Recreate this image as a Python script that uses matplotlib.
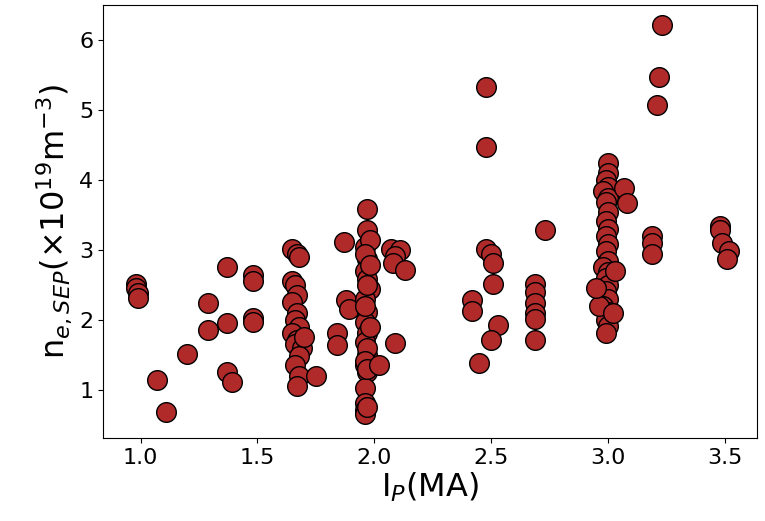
import numpy as np
import matplotlib.pyplot as plt


# Plasma current (MA) and separatrix density (1e19 m^-3)
ip_ma = [
    0.98, 0.98, 0.99, 0.99,
    1.07, 1.11, 1.20, 1.29, 1.29, 1.37, 1.37, 1.37, 1.39,
    1.48, 1.48, 1.48, 1.48,
    # column near 1.67
    1.65, 1.67, 1.68, 1.65, 1.66, 1.67, 1.65, 1.67, 1.66, 1.68,
    1.65, 1.67, 1.66, 1.69, 1.68, 1.66, 1.68, 1.67, 1.75, 1.70,
    # group near 1.87
    1.87, 1.88, 1.89, 1.84, 1.84,
    # column near 1.97
    1.97, 1.97, 1.96, 1.97, 1.96, 1.97, 1.98, 1.96, 1.97, 1.96,
    1.97, 1.96, 1.97, 1.96, 1.97, 1.96, 1.96, 1.96, 1.96,
    1.98, 1.96, 1.98, 1.97, 1.96, 1.98, 1.97, 1.96, 1.97, 1.97, 2.02,
    # group near 2.1
    2.07, 2.11, 2.09, 2.08, 2.13, 2.09,
    # group near 2.5
    2.42, 2.42, 2.45, 2.48, 2.48, 2.48, 2.50, 2.51, 2.51, 2.53, 2.50,
    # group near 2.7
    2.69, 2.69, 2.69, 2.69, 2.69, 2.69, 2.73,
    # column near 3.0
    3.00, 3.00, 2.99, 3.00, 2.98, 3.00, 2.99, 3.00, 2.99, 3.00,
    2.99, 3.00, 2.99, 3.00, 2.98, 3.00, 2.99, 3.00, 2.99, 3.00,
    2.98, 3.00, 2.99, 3.00, 2.99,
    3.07, 3.08, 2.96, 2.95, 3.03, 3.02,
    # group near 3.2
    3.23, 3.22, 3.21, 3.19, 3.19, 3.19,
    # group near 3.5
    3.48, 3.48, 3.49, 3.52, 3.51,
]
ne_sep = [
    2.52, 2.45, 2.38, 2.32,
    1.14, 0.68, 1.52, 1.85, 2.24, 2.76, 1.95, 1.26, 1.12,
    2.64, 2.55, 2.03, 1.97,
    3.02, 2.95, 2.90, 2.55, 2.50, 2.35, 2.25, 2.10, 2.00, 1.90,
    1.82, 1.72, 1.65, 1.60, 1.48, 1.35, 1.20, 1.05, 1.20, 1.75,
    3.11, 2.28, 2.15, 1.82, 1.64,
    3.58, 3.28, 3.05, 2.87, 2.70, 2.58, 2.44, 2.30, 2.11, 1.97,
    1.82, 1.68, 1.50, 1.36, 1.26, 1.03, 0.81, 0.71, 0.65,
    3.15, 2.95, 2.78, 2.50, 2.20, 1.90, 1.60, 1.42, 1.30, 0.75, 1.35,
    3.02, 3.00, 2.92, 2.82, 2.72, 1.67,
    2.28, 2.13, 1.38, 5.33, 4.47, 3.02, 2.95, 2.82, 2.52, 1.93, 1.72,
    2.52, 2.40, 2.24, 2.10, 2.02, 1.72, 3.29,
    4.24, 4.10, 4.00, 3.90, 3.85, 3.75, 3.68, 3.55, 3.42, 3.30,
    3.20, 3.08, 2.98, 2.85, 2.75, 2.68, 2.60, 2.50, 2.42, 2.30,
    2.20, 2.12, 2.00, 1.92, 1.82,
    3.88, 3.67, 2.20, 2.45, 2.70, 2.10,
    6.22, 5.47, 5.07, 3.20, 3.10, 2.95,
    3.35, 3.28, 3.10, 2.98, 2.87,
]

x_ticks = [1.0, 1.5, 2.0, 2.5, 3.0, 3.5]
y_ticks = [1, 2, 3, 4, 5, 6]

fig = plt.figure(figsize=(7.65, 5.21), dpi=100)
ax = fig.add_axes([0.135, 0.159, 0.855, 0.831])
ax.scatter(ip_ma, ne_sep, s=200, c='#b02a2a', edgecolors='black', linewidths=1.0, zorder=3)

ax.set_xlim(0.84, 3.64)
ax.set_ylim(0.31, 6.5)
ax.set_xticks(x_ticks)
ax.set_yticks(y_ticks)
ax.tick_params(labelsize=16)

ax.set_xlabel(r'I$_P$(MA)', fontsize=23, labelpad=2)
ax.set_ylabel(r'n$_{e,SEP}$($\times$10$^{19}$m$^{-3}$)', fontsize=23, labelpad=4)

fig.savefig('out.png', dpi=100)
